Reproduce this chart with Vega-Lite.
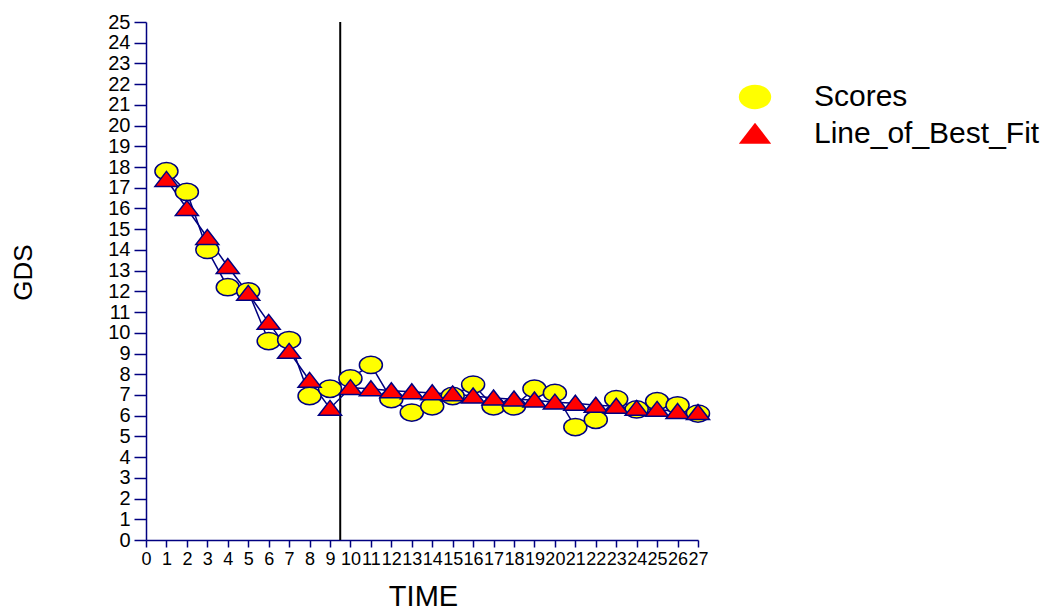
{
  "$schema": "https://vega.github.io/schema/vega-lite/v6.json",
  "autosize": "none",
  "width": 552,
  "height": 518,
  "padding": {"left": 146, "top": 22, "right": 359, "bottom": 74},
  "background": "white",
  "config": {
    "view": {"stroke": null},
    "font": "Liberation Sans"
  },
  "datasets": {
    "pts": [
      {"time": 1, "value": 17.8, "series": "Scores"},
      {"time": 2, "value": 16.8, "series": "Scores"},
      {"time": 3, "value": 14.0, "series": "Scores"},
      {"time": 4, "value": 12.2, "series": "Scores"},
      {"time": 5, "value": 12.0, "series": "Scores"},
      {"time": 6, "value": 9.6, "series": "Scores"},
      {"time": 7, "value": 9.65, "series": "Scores"},
      {"time": 8, "value": 6.95, "series": "Scores"},
      {"time": 9, "value": 7.3, "series": "Scores"},
      {"time": 10, "value": 7.8, "series": "Scores"},
      {"time": 11, "value": 8.45, "series": "Scores"},
      {"time": 12, "value": 6.8, "series": "Scores"},
      {"time": 13, "value": 6.15, "series": "Scores"},
      {"time": 14, "value": 6.45, "series": "Scores"},
      {"time": 15, "value": 6.95, "series": "Scores"},
      {"time": 16, "value": 7.5, "series": "Scores"},
      {"time": 17, "value": 6.45, "series": "Scores"},
      {"time": 18, "value": 6.45, "series": "Scores"},
      {"time": 19, "value": 7.3, "series": "Scores"},
      {"time": 20, "value": 7.1, "series": "Scores"},
      {"time": 21, "value": 5.45, "series": "Scores"},
      {"time": 22, "value": 5.8, "series": "Scores"},
      {"time": 23, "value": 6.8, "series": "Scores"},
      {"time": 24, "value": 6.3, "series": "Scores"},
      {"time": 25, "value": 6.7, "series": "Scores"},
      {"time": 26, "value": 6.5, "series": "Scores"},
      {"time": 27, "value": 6.1, "series": "Scores"},
      {"time": 1, "value": 17.4, "series": "Line_of_Best_Fit"},
      {"time": 2, "value": 16.0, "series": "Line_of_Best_Fit"},
      {"time": 3, "value": 14.6, "series": "Line_of_Best_Fit"},
      {"time": 4, "value": 13.2, "series": "Line_of_Best_Fit"},
      {"time": 5, "value": 11.9, "series": "Line_of_Best_Fit"},
      {"time": 6, "value": 10.5, "series": "Line_of_Best_Fit"},
      {"time": 7, "value": 9.1, "series": "Line_of_Best_Fit"},
      {"time": 8, "value": 7.7, "series": "Line_of_Best_Fit"},
      {"time": 9, "value": 6.35, "series": "Line_of_Best_Fit"},
      {"time": 10, "value": 7.35, "series": "Line_of_Best_Fit"},
      {"time": 11, "value": 7.3, "series": "Line_of_Best_Fit"},
      {"time": 12, "value": 7.2, "series": "Line_of_Best_Fit"},
      {"time": 13, "value": 7.15, "series": "Line_of_Best_Fit"},
      {"time": 14, "value": 7.1, "series": "Line_of_Best_Fit"},
      {"time": 15, "value": 7.05, "series": "Line_of_Best_Fit"},
      {"time": 16, "value": 6.95, "series": "Line_of_Best_Fit"},
      {"time": 17, "value": 6.85, "series": "Line_of_Best_Fit"},
      {"time": 18, "value": 6.8, "series": "Line_of_Best_Fit"},
      {"time": 19, "value": 6.75, "series": "Line_of_Best_Fit"},
      {"time": 20, "value": 6.65, "series": "Line_of_Best_Fit"},
      {"time": 21, "value": 6.6, "series": "Line_of_Best_Fit"},
      {"time": 22, "value": 6.5, "series": "Line_of_Best_Fit"},
      {"time": 23, "value": 6.45, "series": "Line_of_Best_Fit"},
      {"time": 24, "value": 6.35, "series": "Line_of_Best_Fit"},
      {"time": 25, "value": 6.3, "series": "Line_of_Best_Fit"},
      {"time": 26, "value": 6.2, "series": "Line_of_Best_Fit"},
      {"time": 27, "value": 6.15, "series": "Line_of_Best_Fit"}
    ],
    "phase": [{"time": 9.5}]
  },
  "layer": [
    {
      "data": {"name": "phase"},
      "mark": {"type": "rule", "color": "black", "strokeWidth": 2},
      "encoding": {
        "x": {
          "field": "time", "type": "quantitative",
          "scale": {"domain": [0, 27], "nice": false, "zero": false},
          "axis": {"title": "TIME", "values": [0,1,2,3,4,5,6,7,8,9,10,11,12,13,14,15,16,17,18,19,20,21,22,23,24,25,26,27],
            "grid": false, "domainColor": "#000080", "tickColor": "#000080", "tickSize": 7, "domainWidth": 1.5, "tickWidth": 1.5,
            "labelOverlap": false, "labelBound": false, "labelFlush": false, "labelFontSize": 18, "labelColor": "black", "labelPadding": 3,
            "titleFontSize": 29, "titleFontWeight": "normal", "titleColor": "black", "titleX": 277, "titleY": 56, "titleBaseline": "middle"}
        }
      }
    },
    {
      "data": {"name": "pts"},
      "mark": {"type": "line", "color": "#000080", "strokeWidth": 1.5},
      "encoding": {
        "x": {
          "field": "time", "type": "quantitative",
          "scale": {"domain": [0, 27], "nice": false, "zero": false},
          "axis": {"title": "TIME", "values": [0,1,2,3,4,5,6,7,8,9,10,11,12,13,14,15,16,17,18,19,20,21,22,23,24,25,26,27],
            "grid": false, "domainColor": "#000080", "tickColor": "#000080", "tickSize": 7, "domainWidth": 1.5, "tickWidth": 1.5,
            "labelOverlap": false, "labelBound": false, "labelFlush": false, "labelFontSize": 18, "labelColor": "black", "labelPadding": 3,
            "titleFontSize": 29, "titleFontWeight": "normal", "titleColor": "black", "titleX": 277, "titleY": 56, "titleBaseline": "middle"}
        },
        "y": {
          "field": "value", "type": "quantitative",
          "scale": {"domain": [0, 25], "nice": false},
          "axis": {"title": "GDS", "values": [0,1,2,3,4,5,6,7,8,9,10,11,12,13,14,15,16,17,18,19,20,21,22,23,24,25],
            "grid": false, "domainColor": "#000080", "tickColor": "#000080", "tickSize": 12, "domainWidth": 1.5, "tickWidth": 1.5,
            "labelOverlap": false, "labelBound": false, "labelFlush": false, "labelFontSize": 20, "labelColor": "black", "labelPadding": 4,
            "titleFontSize": 26, "titleFontWeight": "normal", "titleColor": "black", "titleX": -123, "titleY": 250, "titleAngle": -90, "titleAlign": "center", "titleBaseline": "middle"}
        },
        "detail": {"field": "series"}
      }
    },
    {
      "data": {"name": "pts"},
      "mark": {"type": "point", "filled": true, "stroke": "#000080", "strokeWidth": 1.5, "opacity": 1, "size": 530},
      "encoding": {
        "x": {
          "field": "time", "type": "quantitative",
          "scale": {"domain": [0, 27], "nice": false, "zero": false},
          "axis": {"title": "TIME", "values": [0,1,2,3,4,5,6,7,8,9,10,11,12,13,14,15,16,17,18,19,20,21,22,23,24,25,26,27],
            "grid": false, "domainColor": "#000080", "tickColor": "#000080", "tickSize": 7, "domainWidth": 1.5, "tickWidth": 1.5,
            "labelOverlap": false, "labelBound": false, "labelFlush": false, "labelFontSize": 18, "labelColor": "black", "labelPadding": 3,
            "titleFontSize": 29, "titleFontWeight": "normal", "titleColor": "black", "titleX": 277, "titleY": 56, "titleBaseline": "middle"}
        },
        "y": {
          "field": "value", "type": "quantitative",
          "scale": {"domain": [0, 25], "nice": false},
          "axis": {"title": "GDS", "values": [0,1,2,3,4,5,6,7,8,9,10,11,12,13,14,15,16,17,18,19,20,21,22,23,24,25],
            "grid": false, "domainColor": "#000080", "tickColor": "#000080", "tickSize": 12, "domainWidth": 1.5, "tickWidth": 1.5,
            "labelOverlap": false, "labelBound": false, "labelFlush": false, "labelFontSize": 20, "labelColor": "black", "labelPadding": 4,
            "titleFontSize": 26, "titleFontWeight": "normal", "titleColor": "black", "titleX": -123, "titleY": 250, "titleAngle": -90, "titleAlign": "center", "titleBaseline": "middle"}
        },
        "fill": {
          "field": "series", "type": "nominal",
          "scale": {"domain": ["Scores", "Line_of_Best_Fit"], "range": ["#ffff00", "#ff0000"]},
          "legend": {
            "title": null, "orient": "none", "legendX": 592, "legendY": 58,
            "labelFontSize": 30, "labelColor": "black", "labelLimit": 400, "symbolSize": 1050,
            "symbolStrokeColor": "#000080", "symbolStrokeWidth": 1.5, "symbolOpacity": 1,
            "rowPadding": 4, "labelOffset": 42
          }
        },
        "shape": {
          "field": "series", "type": "nominal",
          "scale": {"domain": ["Scores", "Line_of_Best_Fit"], "range": ["M -1 0 A 1 0.75 0 1 0 1 0 A 1 0.75 0 1 0 -1 0 Z", "M 0 -0.7 L 1 0.6 L -1 0.6 Z"]},
          "legend": {
            "title": null, "orient": "none", "legendX": 592, "legendY": 58,
            "labelFontSize": 30, "labelColor": "black", "labelLimit": 400, "symbolSize": 1050,
            "symbolStrokeColor": "#000080", "symbolStrokeWidth": 1.5, "symbolOpacity": 1,
            "rowPadding": 4, "labelOffset": 42
          }
        },
        "order": {"field": "series", "sort": "descending"}
      }
    }
  ]
}
